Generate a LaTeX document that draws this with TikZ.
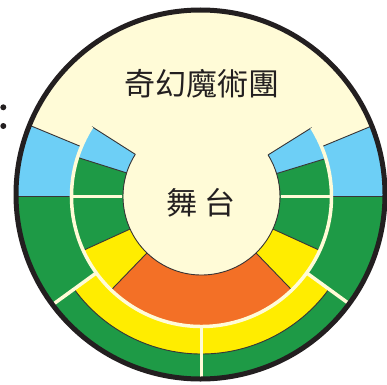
\documentclass[tikz,border=0pt]{standalone}
\usepackage{fontspec}
\newfontfamily\cjk{Noto Sans CJK TC}
\definecolor{cream}{HTML}{FFFBD7}
\definecolor{sky}{HTML}{6DCFF6}
\definecolor{grn}{HTML}{1E9A46}
\definecolor{yel}{HTML}{FFED00}
\definecolor{org}{HTML}{F37026}
\definecolor{ink}{HTML}{231F20}
\newcommand\annseg[5]{\fill[#1] (#2:#4) arc[start angle=#2, end angle=#3, radius=#4] -- (#3:#5) arc[start angle=#3, end angle=#2, radius=#5] -- cycle;}
\begin{document}
\begin{tikzpicture}[x=1pt,y=1pt,
  edgeline/.style={draw=ink!90, line width=0.9pt},
  sepline/.style={draw=cream, line width=3.5pt},
  rim/.style={draw=ink, line width=5pt},
  lbl/.style={font=\cjk\fontsize{31}{31}\selectfont, text=ink, inner sep=0pt}]
\useasboundingbox (0,0) rectangle (387,384);
\begin{scope}[shift={(201.5,187.5)}]
  \begin{scope}
    \clip (-1,2) circle (184.5);
    \fill[cream] (-1,2) circle (184.5);
    % inner ring
    \annseg{sky}{147.5}{162.5}{78.5}{130}
    \annseg{grn}{162.5}{180}{78.5}{130}
    \annseg{grn}{180}{204.5}{78.5}{130}
    \annseg{yel}{204.5}{226}{78.5}{130}
    \annseg{org}{226}{314}{78.5}{130}
    \annseg{yel}{314}{335.5}{78.5}{130}
    \annseg{grn}{335.5}{360}{78.5}{130}
    \annseg{grn}{0}{17}{78.5}{130}
    \annseg{sky}{17}{32}{78.5}{130}
    % outer ring
    \annseg{sky}{157.5}{180}{130}{200}
    \annseg{grn}{180}{216}{130}{200}
    \annseg{yel}{216}{324}{130}{157.5}
    \annseg{grn}{216}{324}{157.5}{200}
    \annseg{grn}{324}{360}{130}{200}
    \annseg{sky}{0}{22.5}{130}{200}
    % dark edges
    \draw[edgeline] (147.5:78.5) arc[start angle=147.5, end angle=392, radius=78.5];
    \foreach \a in {147.5,162.5,204.5,226,314,335.5,17,32}
      \draw[edgeline] (\a:78.5) -- (\a:130);
    \foreach \a in {157.5,180,0,22.5}
      \draw[edgeline] (\a:130) -- (\a:200);
    \draw[edgeline] (216:157.5) arc[start angle=216, end angle=324, radius=157.5];
    % cream separators
    \draw[sepline] (147.5:130) arc[start angle=147.5, end angle=392, radius=130];
    \foreach \a in {180,0}
      \draw[sepline] (\a:79.2) -- (\a:130);
    \foreach \a in {216,270,324}
      \draw[sepline] (\a:130) -- (\a:200);
  \end{scope}
  \draw[rim] (-1,2) circle (184.5);
\end{scope}
\node[lbl] (title) at (201.7,300.7) {奇幻魔術團};
\node[lbl] (stage) at (201.3,181) {舞 台};
\fill[ink] (3.3,276.7) circle (3);
\fill[ink] (3.3,258) circle (3);
\end{tikzpicture}
\end{document}
